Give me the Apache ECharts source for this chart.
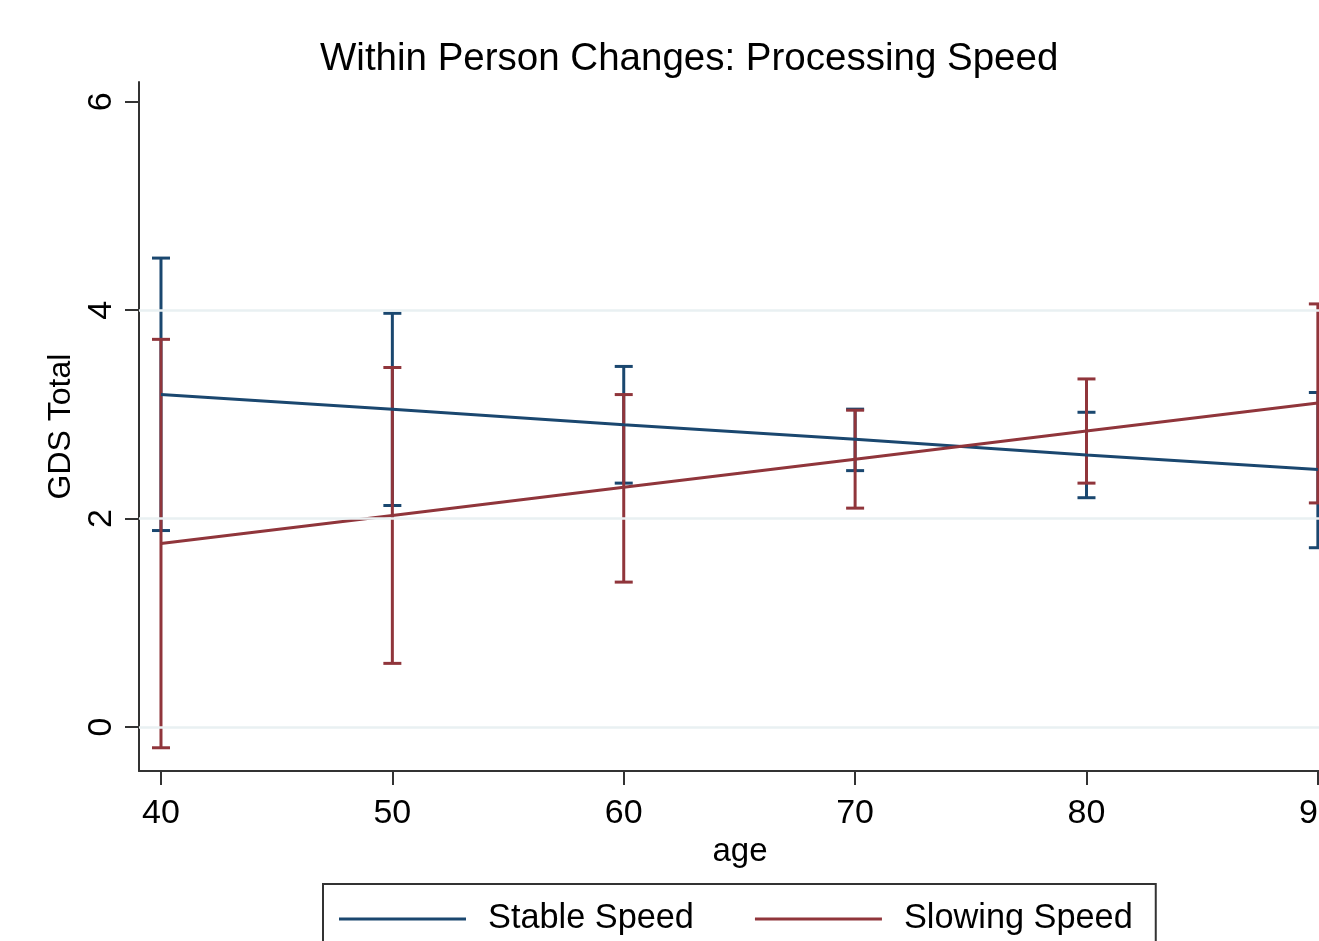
<!DOCTYPE html>
<html>
<head>
<meta charset="utf-8">
<script src="https://cdn.jsdelivr.net/npm/echarts@6/dist/echarts.min.js"></script>
<style>
html,body{margin:0;padding:0;background:#fff;}
#main{width:1319px;height:941px;}
</style>
</head>
<body>
<div id="main"></div>
<script>
const ages = [40, 50, 60, 70, 80, 90];
const stableMean  = [3.19, 3.05, 2.90, 2.76, 2.61, 2.47];
const stableLower = [1.885, 2.125, 2.34, 2.46, 2.20, 1.72];
const stableUpper = [4.50, 3.97, 3.46, 3.05, 3.02, 3.21];
const slowingMean  = [1.76, 2.03, 2.30, 2.57, 2.84, 3.11];
const slowingLower = [-0.20, 0.61, 1.39, 2.10, 2.34, 2.15];
const slowingUpper = [3.72, 3.45, 3.19, 3.04, 3.34, 4.06];
const xTicks = [40, 50, 60, 70, 80, 90];
const yTicks = [0, 2, 4, 6];
const yGridLines = [0, 2, 4];

const BLUE = '#1a476f';
const RED = '#90353b';
const FONT = 'Liberation Sans, Arial, sans-serif';

function errorBarItem(color) {
  return function (params, api) {
    const x = api.value(0), lo = api.value(1), hi = api.value(2);
    const pHi = api.coord([x, hi]);
    const pLo = api.coord([x, lo]);
    const hw = 9;
    const style = { stroke: color, lineWidth: 3 };
    return {
      type: 'group',
      children: [
        { type: 'line', shape: { x1: pHi[0], y1: pHi[1], x2: pLo[0], y2: pLo[1] }, style: style },
        { type: 'line', shape: { x1: pHi[0] - hw, y1: pHi[1], x2: pHi[0] + hw, y2: pHi[1] }, style: style },
        { type: 'line', shape: { x1: pLo[0] - hw, y1: pLo[1], x2: pLo[0] + hw, y2: pLo[1] }, style: style }
      ]
    };
  };
}

const chart = echarts.init(document.getElementById('main'), null, { renderer: 'canvas' });
chart.setOption({
  backgroundColor: '#fff',
  animation: false,
  title: {
    text: 'Within Person Changes: Processing Speed',
    left: 320,
    top: 40,
    padding: 0,
    textStyle: { fontFamily: FONT, fontSize: 38.5, fontWeight: 'normal', color: '#000' }
  },
  legend: {
    data: ['Stable Speed', 'Slowing Speed'],
    left: 323,
    top: 884,
    padding: [15, 23, 40, 16],
    borderColor: '#333',
    borderWidth: 2,
    icon: 'rect',
    itemWidth: 127,
    itemHeight: 3,
    itemGap: 61,
    itemStyle: { borderWidth: 0 },
    textStyle: { fontFamily: FONT, fontSize: 34.3, color: '#000', lineHeight: 40, padding: [0, 0, 0, 17] }
  },
  grid: { left: 139, top: 82, width: 1202, height: 689, containLabel: false, outerBoundsMode: 'none' },
  xAxis: {
    type: 'value',
    min: 39.05,
    max: 91,
    name: 'age',
    nameLocation: 'middle',
    nameGap: 62,
    nameTextStyle: { fontFamily: FONT, fontSize: 33, color: '#000' },
    axisLine: { show: true, onZero: false, lineStyle: { color: '#333', width: 2 } },
    axisTick: { show: true, length: 14, customValues: xTicks, lineStyle: { color: '#333', width: 2 } },
    axisLabel: { customValues: xTicks, margin: 26, fontFamily: FONT, fontSize: 34, color: '#000' },
    splitLine: { show: false }
  },
  yAxis: {
    type: 'value',
    min: -0.423,
    max: 6.19,
    name: 'GDS Total',
    nameLocation: 'middle',
    nameGap: 56,
    nameRotate: 90,
    nameTextStyle: { fontFamily: FONT, fontSize: 32, color: '#000' },
    axisLine: { show: true, onZero: false, lineStyle: { color: '#333', width: 2 } },
    axisTick: { show: true, length: 14, customValues: yTicks, lineStyle: { color: '#333', width: 2 } },
    axisLabel: { customValues: yTicks, rotate: 90, margin: 20, fontFamily: FONT, fontSize: 34, color: '#000' },
    splitLine: { show: false }
  },
  series: [
    {
      name: 'gridlines',
      type: 'line',
      data: [],
      silent: true,
      markLine: {
        silent: true,
        symbol: 'none',
        label: { show: false },
        lineStyle: { color: '#e9f0f2', width: 2.5, type: 'solid' },
        data: yGridLines.map(v => ({ yAxis: v }))
      }
    },
    {
      name: 'Stable CI',
      type: 'custom',
      renderItem: errorBarItem(BLUE),
      encode: { x: 0, y: [1, 2] },
      data: ages.map((a, i) => [a, stableLower[i], stableUpper[i]]),
      clip: false
    },
    {
      name: 'Slowing CI',
      type: 'custom',
      renderItem: errorBarItem(RED),
      encode: { x: 0, y: [1, 2] },
      data: ages.map((a, i) => [a, slowingLower[i], slowingUpper[i]]),
      clip: false
    },
    {
      name: 'Stable Speed',
      type: 'line',
      color: BLUE,
      symbol: 'none',
      lineStyle: { color: BLUE, width: 3 },
      data: ages.map((a, i) => [a, stableMean[i]])
    },
    {
      name: 'Slowing Speed',
      type: 'line',
      color: RED,
      symbol: 'none',
      lineStyle: { color: RED, width: 3 },
      data: ages.map((a, i) => [a, slowingMean[i]])
    }
  ]
});
</script>
</body>
</html>
